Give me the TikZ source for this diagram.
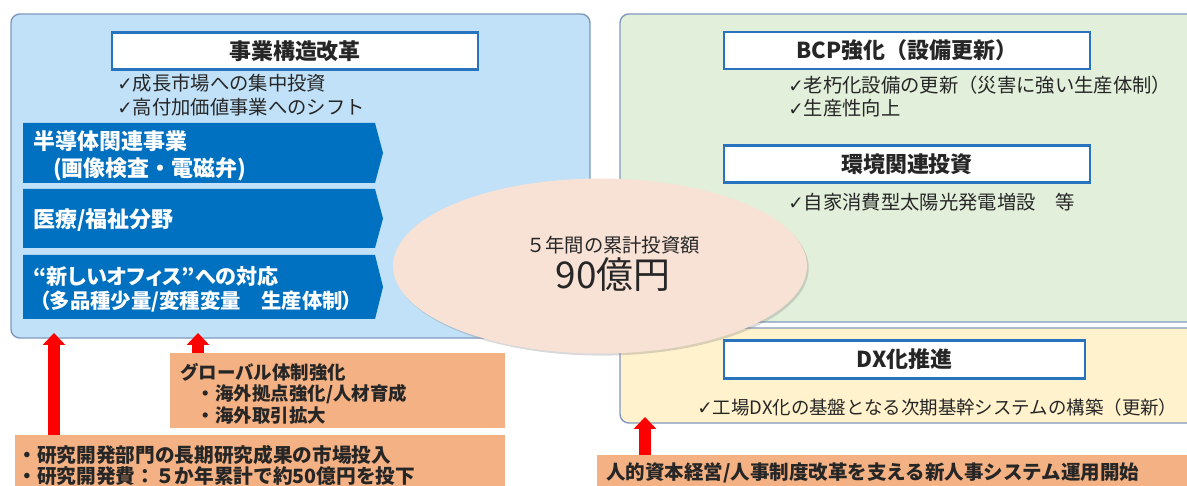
\documentclass[tikz,border=0pt]{standalone}
\usepackage{fontspec}
\setmainfont{Noto Sans CJK JP}
\newfontfamily\tickfont{DejaVu Sans}
\usetikzlibrary{arrows.meta,shapes.geometric,shadows}
\definecolor{PanelBlue}{RGB}{192,225,248}
\definecolor{PanelGreen}{RGB}{226,239,218}
\definecolor{PanelYellow}{RGB}{255,242,204}
\definecolor{PanelEdge}{RGB}{128,152,190}
\definecolor{HeadEdge}{RGB}{40,115,190}
\definecolor{ArrowBlue}{RGB}{0,112,192}
\definecolor{BoxOrange}{RGB}{244,177,131}
\definecolor{EllFill}{RGB}{248,226,214}
\definecolor{TextClr}{RGB}{38,38,38}
\newcommand{\ticksym}{{\tickfont\fontsize{10.5}{10}\selectfont ✓}}

\begin{document}
\begin{tikzpicture}[x=0.02cm,y=-0.02cm,
  panel/.style={draw=PanelEdge,line width=0.8pt,rounded corners=5pt},
  header/.style={draw=HeadEdge,fill=white,line width=1.6pt,inner sep=0pt,
    minimum width=7.32cm,minimum height=0.74cm,text=TextClr,
    font=\fontsize{12.5}{14}\selectfont\bfseries,
    drop shadow={shadow xshift=0.7pt,shadow yshift=-0.7pt,opacity=.35}},
  checks/.style={anchor=west,align=left,inner sep=0pt,text=TextClr,
    font=\fontsize{11}{13.6}\selectfont},
  arrowtext/.style={anchor=west,align=left,inner sep=0pt,text=white,
    font=\fontsize{12.5}{15.3}\selectfont\bfseries},
  orangebox/.style={fill=BoxOrange,inner sep=0pt},
  boxtext/.style={anchor=west,align=left,inner sep=0pt,text=TextClr,
    font=\fontsize{10.5}{12.2}\selectfont\bfseries},
  redarrow/.style={draw=red,line width=7pt,-{Triangle[width=12.5pt,length=6.8pt]}}]
\clip (0,0) rectangle (1187,486);

% panels
\draw[panel,fill=PanelBlue] (11,14) rectangle (590,338);
\draw[panel,fill=PanelGreen] (620,14) rectangle (1210,322);
\draw[panel,fill=PanelYellow] (620,328) rectangle (1210,423);

% left side
\node[header] (reform) at (295,51) {事業構造改革};
\node[checks] (reformchk) at (117,95) {\ticksym 成長市場への集中投資\\\ticksym 高付加価値事業へのシフト};

\foreach \t/\b in {123/183,189/248,255/319}
  \fill[ArrowBlue] (23,\t) -- (375,\t) -- (383,{(\t+\b)/2}) -- (375,\b) -- (23,\b) -- cycle;
\node[arrowtext] (semi) at (33,155.5) {半導体関連事業\\\hspace{0.9em}(画像検査・電磁弁)};
\node[arrowtext] (medical) at (33,220) {医療/福祉分野};
\node[arrowtext,font=\fontsize{12}{13.8}\selectfont\bfseries\addfontfeatures{RawFeature=+palt}] (office) at (33,289)
  {“新しいオフィス”への対応\\{\fontsize{11.6}{13.8}\selectfont\hspace{0.3em}（多品種少量/変種変量　生産体制）}};

% right side
\node[header] (bcp) at (907,50.5) {BCP強化（設備更新）};
\node[checks] (bcpchk) at (788,96.5) {\ticksym 老朽化設備の更新（災害に強い生産体制）\\\ticksym 生産性向上};
\node[header] (env) at (907,164) {環境関連投資};
\node[checks] (envchk) at (788,202) {\ticksym 自家消費型太陽光発電増設　等};
\node[header,minimum width=7.22cm,minimum height=0.76cm] (dx) at (904.5,359.5) {DX化推進};
\node[checks,font=\fontsize{10.5}{13.6}\selectfont] (dxchk) at (697,407) {\ticksym 工場DX化の基盤となる次期基幹システムの構築（更新）};

% total
\node[ellipse,fill=EllFill,minimum width=8.28cm,minimum height=3.5cm,
  drop shadow={shadow xshift=1pt,shadow yshift=-1.2pt,opacity=.3}] (total) at (600,266) {};
\node[align=center,inner sep=0pt,text=TextClr] (totaltext) at ([xshift=0.26cm,yshift=0.04cm]total.center)
  {{\fontsize{11}{12}\selectfont ５年間の累計投資額}\\[1pt]{\fontsize{21}{22}\selectfont 90億円}};

% bottom boxes
\node[orangebox,minimum width=6.7cm,minimum height=1.5cm] (global) at (337.5,390.5) {};
\node[boxtext] (globaltext) at (180,393.5)
  {グローバル体制強化\\\hspace{0.9em}・海外拠点強化/人材育成\\\hspace{0.9em}・海外取引拡大};
\node[orangebox,minimum width=9.8cm,minimum height=1.3cm] (research) at (260,467.5) {};
\node[boxtext,font=\fontsize{11.2}{11.9}\selectfont\bfseries] (researchtext) at (17,465.5)
  {・研究開発部門の長期研究成果の市場投入\\・研究開発費：５か年累計で約50億円を投下};
\node[orangebox,minimum width=12.06cm,minimum height=0.9cm] (hr) at (898.5,477.5) {};
\node[boxtext,font=\fontsize{11.1}{12}\selectfont\bfseries] (hrtext) at (606,473)
  {人的資本経営/人事制度改革を支える新人事システム運用開始};

\coordinate (tipRD) at (54,333);
\coordinate (tipGL) at (198,333);
\coordinate (tipHR) at (645,417);
\draw[redarrow] (tipRD |- research.north) -- (tipRD);
\draw[redarrow] (tipGL |- global.north) -- (tipGL);
\draw[redarrow] (tipHR |- hr.north) -- (tipHR);

\end{tikzpicture}
\end{document}
